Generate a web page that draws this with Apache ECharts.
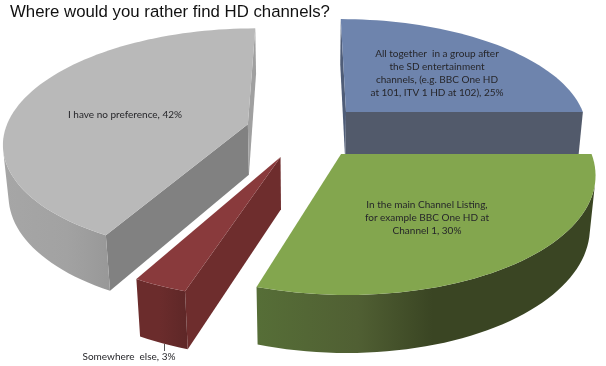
<!DOCTYPE html>
<html><head><meta charset="utf-8">
<style>html,body{margin:0;padding:0;background:#fff}#c{width:606px;height:366px}</style>
<script src="https://cdn.jsdelivr.net/npm/echarts@6/dist/echarts.min.js"></script>
</head><body><div id="c"></div>
<script>
const titleText = 'Where would you rather find HD channels?';
const categories = [
  'All together  in a group after\nthe SD entertainment\nchannels, (e.g. BBC One HD\nat 101, ITV 1 HD at 102)',
  'In the main Channel Listing,\nfor example BBC One HD at\nChannel 1',
  'Somewhere  else',
  'I have no preference'
];
const shares = [25, 30, 3, 42];

// Appearance per slice, separate from the data
const looks = [
  {top:'#6e84ad', startCut:'#4f5d78', endCut:'#525a6b', wall:['#525a6b','#525a6b']},
  {top:'#83a64e', startCut:'#56703a', endCut:'#56703a', wall:[[0,'#566e37'],[0.3,'#505f33'],[0.52,'#3a4523'],[1,'#3a4523']]},
  {top:'#893a3c', startCut:'#6e2d2d', endCut:'#6e2d2d', wall:[[0,'#6b2c2c'],[0.45,'#6b2c2c'],[1,'#5e2727']]},
  {top:'#b9b9b9', startCut:'#818181', endCut:'#a0a0a0', wall:[[0,'#a6a6a6'],[0.6,'#a2a2a2'],[1,'#989898']]}
];
const labelAt = [[437,73],[427,218],[129,357],[125,115]];
const C = {cx:305, cy:131, R:243, tilt:27.5*Math.PI/180, d:5.9, explode:0.245, depth:0.24};

const sinT = Math.sin(C.tilt), cosT = Math.cos(C.tilt);
function project(X, Y, Z) {
  const s = C.d / (C.d + Y*cosT - Z*sinT);
  return [C.cx + C.R*s*X, C.cy - C.R*s*(Y*sinT + Z*cosT)];
}
function area(p) {
  let a = 0;
  for (let i=0;i<p.length;i++){const q=p[(i+1)%p.length]; a += p[i][0]*q[1]-q[0]*p[i][1];}
  return a;
}
const total = shares.reduce((a,b)=>a+b,0);

function renderSlice(i, api) {
  const share = api.value(1);
  let before = 0;
  for (let k=0;k<i;k++) before += shares[k];
  const a0 = before/total*2*Math.PI, a1 = (before+share)/total*2*Math.PI, am=(a0+a1)/2;
  const ox = Math.sin(am)*C.explode, oy = Math.cos(am)*C.explode;
  const P = (r,a,z)=>project(ox+r*Math.sin(a), oy+r*Math.cos(a), z);
  const look = looks[i];
  const kids = [];
  const face = (pts,fill)=>kids.push({type:'polygon',shape:{points:pts},
    style:{fill:fill,stroke:null},silent:true});
  const D = -C.depth;
  const startCut=[P(0,a0,0),P(1,a0,0),P(1,a0,D),P(0,a0,D)];
  const endCut=[P(1,a1,0),P(0,a1,0),P(0,a1,D),P(1,a1,D)];
  if (area(startCut)<0) face(startCut,look.startCut);
  if (area(endCut)<0) face(endCut,look.endCut);
  const n = Math.max(6,Math.round((a1-a0)/(Math.PI/90)));
  const top=[P(0,a0,0)];
  for (let k=0;k<=n;k++) top.push(P(1,a0+(a1-a0)*k/n,0));
  // visible part of the outer wall as one polygon with a horizontal gradient
  const upper=[], lower=[];
  for (let k=0;k<n;k++){
    const b0=a0+(a1-a0)*k/n,b1=a0+(a1-a0)*(k+1)/n;
    const q=[P(1,b0,0),P(1,b1,0),P(1,b1,D),P(1,b0,D)];
    if (area(q)<0){
      if(!upper.length){upper.push(q[0]);lower.push(q[3]);}
      upper.push(q[1]);lower.push(q[2]);
    }
  }
  if (upper.length){
    const wall=upper.concat(lower.reverse());
    const xs=wall.map(p=>p[0]);
    const x0=Math.min.apply(null,xs),x1=Math.max.apply(null,xs);
    const stops=Array.isArray(look.wall[0])?look.wall.map(s=>({offset:s[0],color:s[1]})):
      [{offset:0,color:look.wall[0]},{offset:1,color:look.wall[1]}];
    face(wall,new echarts.graphic.LinearGradient(x0,0,x1,0,stops,true));
  }
  face(top,look.top);
  kids.push({type:'text',silent:true,x:labelAt[i][0],y:labelAt[i][1],
    style:{text:api.value(2)+', '+share+'%',fill:'#26262a',font:'10px Lato',
      align:'center',verticalAlign:'middle',lineHeight:13}});
  if (share===3) kids.push({type:'line',silent:true,shape:{x1:164.5,y1:344,x2:164.5,y2:351},
    style:{stroke:'#555',lineWidth:1}});
  return {type:'group',children:kids};
}
// far slices are drawn first, near ones last
const drawOrder = [3,0,2,1];
const chart = echarts.init(document.getElementById('c'),null,{renderer:'canvas',width:606,height:366});
chart.setOption({
  animation:false,
  backgroundColor:'#fff',
  title:{text:titleText,left:5,top:-1,textStyle:{fontFamily:'Liberation Sans',fontWeight:'normal',fontSize:16.8,color:'#111'}},
  series: drawOrder.map((i,o)=>({
    type:'custom',coordinateSystem:'none',silent:true,z:2+o,
    renderItem:(params,api)=>renderSlice(i,api),
    data:[[i,shares[i],categories[i]]],
    dimensions:['i','share',{name:'label',type:'ordinal'}]
  }))
});
</script></body></html>
